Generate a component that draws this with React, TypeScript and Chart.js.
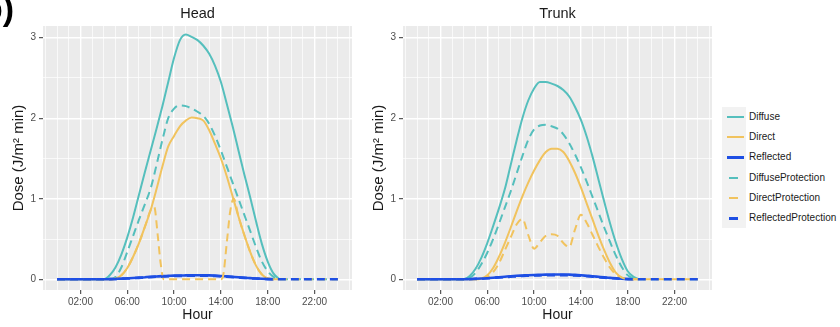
import React, { useEffect, useRef } from "react";
import { Chart, registerables } from "chart.js";

Chart.register(...registerables);

// ---------- data ----------
const HOURS = [0, 1, 2, 3, 3.5, 4, 4.5, 5, 5.5, 6, 6.5, 7, 7.5, 8, 8.5, 9, 9.5, 10, 10.5, 11, 11.5, 12, 12.5, 13, 13.5, 14, 14.5, 15, 15.5, 16, 16.5, 17, 17.5, 18, 18.5, 19, 19.5, 20, 21, 22, 23, 24];

const MAJOR_HOURS = [2, 6, 10, 14, 18, 22];
const X_GRID_HOURS = [-1, 0, 1, 2, 3, 4, 5, 6, 7, 8, 9, 10, 11, 12, 13, 14, 15, 16, 17, 18, 19, 20, 21, 22, 23, 24, 25];
const Y_GRID = [0, 0.5, 1, 1.5, 2, 2.5, 3];
const Y_LABELS = [0, 1, 2, 3];

const SERIES_NAMES = ["Diffuse", "Direct", "Reflected", "DiffuseProtection", "DirectProtection", "ReflectedProtection"];

// Head
const headDiffuse = [0, 0, 0, 0, 0, 0, 0.05, 0.15, 0.31, 0.52, 0.77, 1.05, 1.33, 1.6, 1.87, 2.15, 2.45, 2.75, 2.97, 3.04, 3.01, 2.97, 2.9, 2.8, 2.65, 2.45, 2.18, 1.9, 1.6, 1.3, 1.02, 0.72, 0.44, 0.22, 0.07, 0];
const headDirect = [0, 0, 0, 0, 0, 0, 0, 0.01, 0.05, 0.14, 0.28, 0.45, 0.65, 0.86, 1.12, 1.4, 1.65, 1.78, 1.9, 1.97, 2.01, 2.0, 1.97, 1.85, 1.68, 1.5, 1.28, 1.03, 0.78, 0.55, 0.34, 0.17, 0.06, 0.01, 0, 0];
const headReflected = [0, 0, 0, 0, 0, 0, 0.002, 0.005, 0.008, 0.012, 0.016, 0.021, 0.026, 0.031, 0.035, 0.039, 0.042, 0.045, 0.047, 0.048, 0.049, 0.05, 0.05, 0.048, 0.045, 0.041, 0.036, 0.031, 0.026, 0.02, 0.015, 0.01, 0.006, 0.003, 0.001];
const headDiffuseProt = [0, 0, 0, 0, 0, 0, 0, 0.03, 0.15, 0.34, 0.54, 0.74, 0.93, 1.13, 1.42, 1.73, 2.0, 2.12, 2.16, 2.15, 2.12, 2.08, 2.03, 1.93, 1.78, 1.6, 1.4, 1.2, 1.0, 0.8, 0.6, 0.4, 0.22, 0.1, 0.03, 0, 0, 0, 0, 0, 0, 0];
const headDirectProtHours = [0, 1, 2, 3, 4, 4.5, 5, 5.5, 6, 6.5, 7, 7.5, 8, 8.3, 8.6, 8.85, 9.1, 10, 11, 12, 13, 14, 14.2, 14.5, 14.8, 15.1, 15.5, 16, 16.5, 17, 17.5, 18, 19, 20, 21, 22, 23, 24];
const headDirectProt = [0, 0, 0, 0, 0, 0, 0.01, 0.05, 0.14, 0.28, 0.45, 0.65, 0.86, 0.9, 0.55, 0.2, 0, 0, 0, 0, 0, 0, 0.05, 0.45, 0.85, 1.0, 0.78, 0.55, 0.34, 0.17, 0.06, 0.01, 0, 0, 0, 0, 0, 0];
const headReflectedProt = [0, 0, 0, 0, 0, 0, 0.002, 0.004, 0.007, 0.01, 0.014, 0.018, 0.022, 0.027, 0.031, 0.034, 0.037, 0.04, 0.042, 0.043, 0.044, 0.045, 0.045, 0.043, 0.04, 0.036, 0.032, 0.027, 0.022, 0.017, 0.013, 0.009, 0.005, 0.002, 0.001, 0, 0, 0, 0, 0, 0, 0];

// Trunk
const trunkDiffuse = [0, 0, 0, 0, 0, 0, 0.04, 0.13, 0.27, 0.45, 0.66, 0.88, 1.12, 1.42, 1.72, 2.0, 2.22, 2.37, 2.45, 2.45, 2.43, 2.4, 2.35, 2.27, 2.14, 1.98, 1.77, 1.52, 1.24, 0.96, 0.69, 0.45, 0.25, 0.1, 0.03, 0];
const trunkDirect = [0, 0, 0, 0, 0, 0, 0, 0, 0.01, 0.05, 0.14, 0.28, 0.45, 0.64, 0.84, 1.03, 1.2, 1.35, 1.48, 1.58, 1.62, 1.62, 1.58, 1.47, 1.32, 1.14, 0.94, 0.74, 0.54, 0.36, 0.2, 0.08, 0.02, 0, 0, 0];
const trunkReflected = [0, 0, 0, 0, 0, 0, 0.003, 0.006, 0.01, 0.015, 0.02, 0.026, 0.032, 0.038, 0.043, 0.047, 0.051, 0.054, 0.056, 0.058, 0.059, 0.06, 0.06, 0.058, 0.055, 0.05, 0.044, 0.038, 0.031, 0.024, 0.018, 0.012, 0.007, 0.003, 0.001];
const trunkDiffuseProt = [0, 0, 0, 0, 0, 0, 0.02, 0.08, 0.19, 0.33, 0.5, 0.69, 0.89, 1.09, 1.31, 1.53, 1.73, 1.86, 1.91, 1.92, 1.9, 1.87, 1.8, 1.69, 1.55, 1.39, 1.21, 1.02, 0.83, 0.64, 0.46, 0.29, 0.15, 0.05, 0.01, 0, 0, 0, 0, 0, 0, 0];
const trunkDirectProtHours = HOURS;
const trunkDirectProt = [0, 0, 0, 0, 0, 0, 0, 0, 0.01, 0.03, 0.09, 0.2, 0.36, 0.52, 0.68, 0.75, 0.55, 0.38, 0.46, 0.54, 0.56, 0.54, 0.45, 0.4, 0.62, 0.8, 0.7, 0.55, 0.4, 0.26, 0.14, 0.06, 0.02, 0, 0, 0, 0, 0, 0, 0, 0, 0];
const trunkReflectedProt = [0, 0, 0, 0, 0, 0, 0.002, 0.005, 0.008, 0.012, 0.017, 0.022, 0.027, 0.032, 0.037, 0.041, 0.044, 0.047, 0.049, 0.05, 0.051, 0.052, 0.052, 0.05, 0.047, 0.043, 0.038, 0.032, 0.026, 0.02, 0.015, 0.01, 0.006, 0.002, 0.001, 0, 0, 0, 0, 0, 0, 0];

// ---------- styles ----------
const TEAL = "#55BFBD";
const GOLD = "#F1C35E";
const BLUE = "#1E4FE4";
const PANEL_BG = "#EBEBEB";
const FONT = "'Liberation Sans', Arial, sans-serif";
const COLORS = [TEAL, GOLD, BLUE, TEAL, GOLD, BLUE];
const DASH = [8, 5];

type PanelData = {
  title: string;
  series: { hours: number[]; values: number[] }[];
};

const PANELS: PanelData[] = [
  {
    title: "Head",
    series: [
      { hours: HOURS, values: headDiffuse },
      { hours: HOURS, values: headDirect },
      { hours: HOURS, values: headReflected },
      { hours: HOURS, values: headDiffuseProt },
      { hours: headDirectProtHours, values: headDirectProt },
      { hours: HOURS, values: headReflectedProt },
    ],
  },
  {
    title: "Trunk",
    series: [
      { hours: HOURS, values: trunkDiffuse },
      { hours: HOURS, values: trunkDirect },
      { hours: HOURS, values: trunkReflected },
      { hours: HOURS, values: trunkDiffuseProt },
      { hours: trunkDirectProtHours, values: trunkDirectProt },
      { hours: HOURS, values: trunkReflectedProt },
    ],
  },
];

const fmtHour = (h: number) => (h < 10 ? "0" + h : "" + h) + ":00";

const panelBg = {
  id: "panelBg",
  beforeDraw(chart: any) {
    const { ctx, chartArea } = chart;
    ctx.save();
    ctx.fillStyle = PANEL_BG;
    ctx.fillRect(chartArea.left, chartArea.top, chartArea.right - chartArea.left, chartArea.bottom - chartArea.top);
    ctx.restore();
  },
};

function makeConfig(p: PanelData): any {
  const datasets = p.series.map((s, i) => ({
    label: SERIES_NAMES[i],
    data: s.values.map((v, j) => ({ x: s.hours[j], y: v })),
    borderColor: COLORS[i],
    backgroundColor: COLORS[i],
    borderWidth: i % 3 === 2 ? 2.6 : 2,
    borderDash: i >= 3 ? DASH : [],
    pointRadius: 0,
    fill: false,
    cubicInterpolationMode: "monotone",
    order: 5 - i,
  }));
  return {
    type: "line",
    data: { datasets },
    plugins: [panelBg],
    options: {
      animation: false,
      responsive: false,
      devicePixelRatio: 1,
      events: [],
      layout: { padding: { top: 0, right: 8, left: 0, bottom: 0 } },
      plugins: {
        legend: { display: false },
        tooltip: { enabled: false },
        title: {
          display: true,
          text: p.title,
          fullSize: false,
          color: "#1a1a1a",
          font: { family: FONT, size: 14.5, weight: "normal", lineHeight: 1.2 },
          padding: { top: 5.5, bottom: 3.1 },
        },
      },
      scales: {
        x: {
          type: "linear",
          min: -1.2,
          max: 25.2,
          afterBuildTicks: (s: any) => {
            s.ticks = X_GRID_HOURS.map((v) => ({ value: v }));
          },
          afterFit: (s: any) => {
            s.height = 37;
          },
          ticks: {
            autoSkip: false,
            maxRotation: 0,
            minRotation: 0,
            padding: 2,
            color: "#4d4d4d",
            font: { family: FONT, size: 10 },
            callback: (v: any) => (MAJOR_HOURS.includes(Number(v)) ? fmtHour(Number(v)) : ""),
          },
          grid: {
            color: "#ffffff",
            lineWidth: (c: any) => (c.tick && MAJOR_HOURS.includes(c.tick.value) ? 1.4 : 0.7),
            drawTicks: true,
            tickLength: 4,
            tickWidth: 1,
            tickColor: (c: any) => (c.tick && MAJOR_HOURS.includes(c.tick.value) ? "#333333" : "rgba(0,0,0,0)"),
          },
          border: { display: false },
          title: {
            display: true,
            text: "Hour",
            color: "#1a1a1a",
            font: { family: FONT, size: 14, lineHeight: 1.2 },
            padding: { top: 0, bottom: 3.5 },
          },
        },
        y: {
          type: "linear",
          min: -0.133,
          max: 3.145,
          afterBuildTicks: (s: any) => {
            s.ticks = Y_GRID.map((v) => ({ value: v }));
          },
          afterFit: (s: any) => {
            s.width = 43;
          },
          ticks: {
            autoSkip: false,
            padding: 3,
            color: "#4d4d4d",
            font: { family: FONT, size: 10 },
            callback: (v: any) => (Y_LABELS.includes(Number(v)) ? String(v) : ""),
          },
          grid: {
            color: "#ffffff",
            lineWidth: (c: any) => (c.tick && Y_LABELS.includes(c.tick.value) ? 1.4 : 0.7),
            drawTicks: true,
            tickLength: 4,
            tickWidth: 1,
            tickColor: (c: any) => (c.tick && Y_LABELS.includes(c.tick.value) ? "#333333" : "rgba(0,0,0,0)"),
          },
          border: { display: false },
          title: {
            display: true,
            text: "Dose (J/m² min)",
            color: "#1a1a1a",
            font: { family: FONT, size: 15, lineHeight: 1.2 },
            padding: { top: 9.5, bottom: 0 },
          },
        },
      },
    },
  };
}

function Panel({ data, left }: { data: PanelData; left: number }) {
  const ref = useRef<HTMLCanvasElement | null>(null);
  useEffect(() => {
    if (!ref.current) return;
    const chart = new Chart(ref.current, makeConfig(data));
    return () => chart.destroy();
  }, [data]);
  return (
    <canvas
      ref={ref}
      width={360}
      height={327}
      style={{ position: "absolute", left, top: 0, width: 360, height: 327 }}
    />
  );
}

function Legend() {
  return (
    <div style={{ position: "absolute", left: 722, top: 107, width: 118 }}>
      {SERIES_NAMES.map((name, i) => (
        <div key={name} style={{ position: "relative", height: 20.2 }}>
          <div
            style={{
              position: "absolute",
              left: 0,
              top: 0,
              width: 24,
              height: 20.2,
              background: "#F2F2F2",
            }}
          />
          <div
            style={{
              position: "absolute",
              left: i >= 3 ? 7 : 5,
              top: 9,
              width: i >= 3 ? 9 : 17,
              height: i % 3 === 2 ? 2.6 : 2,
              background: COLORS[i],
            }}
          />
          <div
            style={{
              position: "absolute",
              left: 27,
              top: 0,
              height: 20.2,
              lineHeight: "20.2px",
              fontFamily: FONT,
              fontSize: 10,
              color: "#1a1a1a",
              whiteSpace: "nowrap",
            }}
          >
            {name}
          </div>
        </div>
      ))}
    </div>
  );
}

export default function App() {
  return (
    <div
      style={{
        position: "fixed",
        left: 0,
        top: 0,
        width: 840,
        height: 327,
        overflow: "hidden",
        background: "#ffffff",
      }}
    >
      <Panel data={PANELS[0]} left={0} />
      <Panel data={PANELS[1]} left={360} />
      <Legend />
      <div
        style={{
          position: "absolute",
          left: -18,
          top: -12,
          fontFamily: FONT,
          fontSize: 34,
          fontWeight: "bold",
          color: "#000",
          lineHeight: "40px",
        }}
      >
        b)
      </div>
    </div>
  );
}
